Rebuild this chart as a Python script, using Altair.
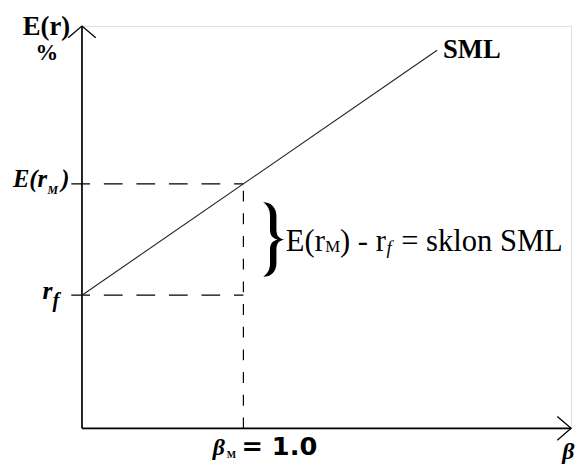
import altair as alt
import pandas as pd

# ---- data (schematic values) ----
beta_extent = [0.0, 3.03]      # horizontal axis: beta
ret_extent = [0.0, 15.11]      # vertical axis: E(r) %
rf = 5.0                       # risk-free rate
erm = 9.18                     # expected market return
beta_m = 1.0                   # market beta
sml_beta = [0.0, 2.2]          # drawn span of the SML
dash_start = -0.066            # dashed guides start just left of the axis

sml_ret = [rf + (erm - rf) * b for b in sml_beta]
mid_ret = (rf + erm) / 2

xs = alt.Scale(domain=beta_extent, nice=False, zero=False)
ys = alt.Scale(domain=ret_extent, nice=False, zero=False)


def X(f="x"):
    return alt.X(f"{f}:Q", scale=xs, axis=None)


def Y(f="y"):
    return alt.Y(f"{f}:Q", scale=ys, axis=None)


# axes
x_axis = alt.Chart(pd.DataFrame({"x": [beta_extent[0]], "x2": [beta_extent[1]], "y": [0.0]})).mark_rule(
    color="black", strokeWidth=1.7).encode(x=X(), x2="x2:Q", y=Y())
y_axis = alt.Chart(pd.DataFrame({"x": [0.0], "y": [ret_extent[0]], "y2": [ret_extent[1]]})).mark_rule(
    color="black", strokeWidth=1.7).encode(x=X(), y=Y(), y2="y2:Q")

x_arrow = alt.Chart(pd.DataFrame({"x": [beta_extent[1]], "y": [0.0]})).mark_point(
    shape="M-1.167,-1L0,0L-1.167,1", size=576, filled=False, color="black",
    strokeWidth=1.3, opacity=1).encode(x=X(), y=Y())
y_arrow = alt.Chart(pd.DataFrame({"x": [0.0], "y": [ret_extent[1]]})).mark_point(
    shape="M-1.167,1L0,0L1.167,1", size=576, filled=False, color="black",
    strokeWidth=1.3, opacity=1).encode(x=X(), y=Y())

# SML
sml = alt.Chart(pd.DataFrame({"x": sml_beta, "y": sml_ret})).mark_line(
    color="#222222", strokeWidth=1.1).encode(x=X(), y=Y())

# dashed guides
h_dash = alt.Chart(pd.DataFrame({"x": [dash_start, dash_start], "x2": [beta_m, beta_m],
                                 "y": [erm, rf]})).mark_rule(
    color="black", strokeWidth=1.2, strokeDash=[19, 14]).encode(x=X(), x2="x2:Q", y=Y())
v_dash = alt.Chart(pd.DataFrame({"x": [beta_m], "y": [0.0], "y2": [erm]})).mark_rule(
    color="black", strokeWidth=1.2, strokeDash=[11, 12]).encode(x=X(), y=Y(), y2="y2:Q")

# brace
brace_path = ("M0.556,-1.05 C0.778,-1.05 0.93,-0.9 0.93,-0.667 L0.93,-0.278 "
              "C0.93,-0.111 1,-0.028 1.16,0 C1,0.028 0.93,0.111 0.93,0.278 "
              "L0.93,0.667 C0.93,0.9 0.778,1.05 0.556,1.05 "
              "C0.694,0.95 0.75,0.833 0.75,0.667 L0.75,0.278 "
              "C0.75,0.111 0.833,0.028 0.972,0 C0.833,-0.028 0.75,-0.111 0.75,-0.278 "
              "L0.75,-0.667 C0.75,-0.833 0.694,-0.95 0.556,-1.05 Z")
brace = alt.Chart(pd.DataFrame({"x": [beta_m], "y": [mid_ret]})).mark_point(
    shape=brace_path, size=5184, filled=True, color="black", opacity=1,
    strokeWidth=0.6).encode(x=X(), y=Y())


def label(text, x, y, dx, dy, size, font="Liberation Serif", style="normal", weight="bold"):
    return alt.Chart(pd.DataFrame({"x": [x], "y": [y], "t": [text]})).mark_text(
        align="left", baseline="alphabetic", dx=dx, dy=dy, fontSize=size, font=font,
        fontStyle=style, fontWeight=weight, color="black").encode(x=X(), y=Y(), text="t:N")


top = ret_extent[1]
right = beta_extent[1]
labels = [
    label("E(r)", 0, top, -60, 9, 27),
    label("%", 0, top, -47, 35, 23),
    label("E(r", 0, erm, -70, 3, 25, style="italic"),
    label("M", 0, erm, -35, 10, 12, style="italic"),
    label(")", 0, erm, -21, 3, 25, style="italic"),
    label("r", 0, rf, -40, 4, 26, style="italic"),
    label("f", 0, rf, -30, 12, 21, style="italic"),
    label("β", beta_m, 0, -31, 27, 24, style="italic"),
    label("M", beta_m, 0, -17, 30, 10),
    label("= 1.0", beta_m, 0, -2, 27, 26, font="DejaVu Sans"),
    label("β", right, 0, -9, 31, 24, style="italic"),
    label("SML", sml_beta[1], sml_ret[1], 6, 8, 27),
    label("E(r", beta_m, mid_ret, 43, 12, 31, weight="normal"),
    label("M", beta_m, mid_ret, 83, 13, 17, weight="normal"),
    label(") - r", beta_m, mid_ret, 98, 12, 31, weight="normal"),
    label("f", beta_m, mid_ret, 145, 15, 19, style="italic", weight="normal"),
    label("= sklon SML", beta_m, mid_ret, 160, 12, 31, weight="normal"),
]

chart = alt.layer(x_axis, y_axis, x_arrow, y_arrow, h_dash, v_dash, sml, brace, *labels).properties(
    width=496, height=408, autosize="none",
    padding={"left": 75, "top": 15, "right": 7, "bottom": 37},
).configure_view(stroke=None).configure(background="white")

chart.save("out.html", embed_options={"renderer": "svg", "actions": False})
